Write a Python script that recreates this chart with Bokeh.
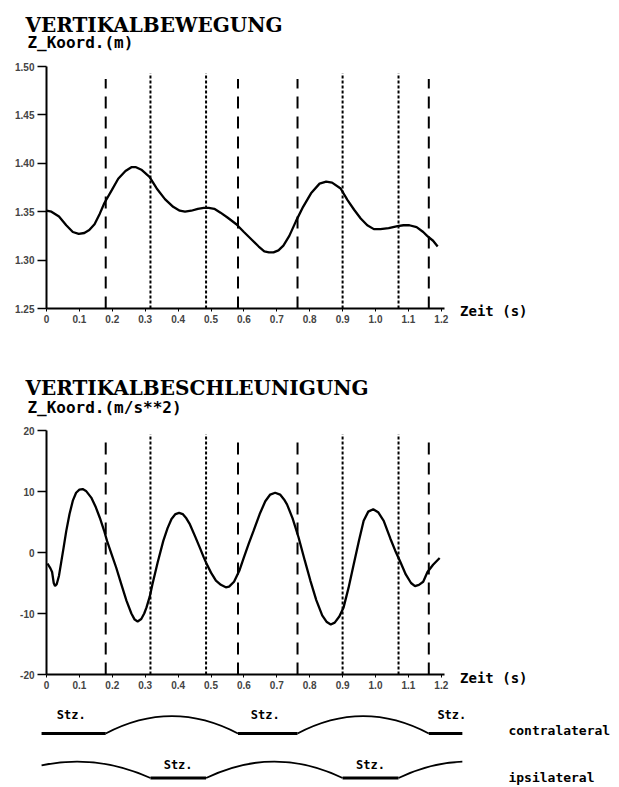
from bokeh.plotting import figure
from bokeh.models import Range1d, FixedTicker, Label
from bokeh.layouts import column
from bokeh.embed import file_html
from bokeh.resources import INLINE

# ---------------- data ----------------
t_pos = [0.000, 0.015, 0.038, 0.060, 0.080, 0.098, 0.115, 0.130, 0.146, 0.162,
         0.176, 0.198, 0.218, 0.240, 0.258, 0.272, 0.290, 0.313, 0.335, 0.360,
         0.385, 0.405, 0.421, 0.440, 0.460, 0.478, 0.493, 0.510, 0.529, 0.550,
         0.577, 0.600, 0.624, 0.645, 0.662, 0.676, 0.690, 0.705, 0.720, 0.738,
         0.758, 0.780, 0.804, 0.830, 0.850, 0.868, 0.894, 0.915, 0.935, 0.955,
         0.975, 0.995, 1.015, 1.040, 1.067, 1.085, 1.103, 1.125, 1.145, 1.157,
         1.175, 1.189]
z_pos = [1.351, 1.350, 1.345, 1.336, 1.329, 1.327, 1.328, 1.331, 1.337, 1.348,
         1.359, 1.372, 1.384, 1.392, 1.396, 1.396, 1.393, 1.386, 1.374, 1.363,
         1.355, 1.351, 1.350, 1.351, 1.353, 1.354, 1.354, 1.353, 1.349, 1.344,
         1.337, 1.329, 1.321, 1.314, 1.309, 1.308, 1.308, 1.310, 1.315, 1.325,
         1.340, 1.355, 1.369, 1.379, 1.381, 1.380, 1.374, 1.362, 1.352, 1.343,
         1.336, 1.332, 1.332, 1.333, 1.335, 1.336, 1.336, 1.334, 1.329, 1.325,
         1.320, 1.314]

t_acc = [0.003, 0.012, 0.017, 0.022, 0.026, 0.031, 0.038, 0.045, 0.052, 0.060,
         0.070, 0.080, 0.090, 0.100, 0.110, 0.120, 0.136, 0.150, 0.162, 0.175,
         0.184, 0.198, 0.212, 0.228, 0.243, 0.258, 0.268, 0.277, 0.288, 0.297,
         0.304, 0.314, 0.322, 0.338, 0.355, 0.368, 0.380, 0.392, 0.403, 0.414,
         0.425, 0.436, 0.452, 0.466, 0.478, 0.487, 0.500, 0.515, 0.530, 0.545,
         0.555, 0.570, 0.586, 0.600, 0.615, 0.629, 0.648, 0.665, 0.680, 0.695,
         0.710, 0.722, 0.731, 0.748, 0.766, 0.785, 0.802, 0.820, 0.838, 0.852,
         0.864, 0.876, 0.890, 0.903, 0.918, 0.934, 0.950, 0.964, 0.978, 0.993,
         1.008, 1.025, 1.045, 1.060, 1.076, 1.092, 1.108, 1.120, 1.132, 1.145,
         1.158, 1.175, 1.195]
a_acc = [-1.8, -2.6, -3.2, -5.0, -5.5, -5.2, -3.8, -1.5, 0.8, 3.5,
         6.3, 8.5, 9.8, 10.3, 10.4, 10.1, 9.0, 7.4, 5.7, 3.6,
         1.9, -0.3, -2.5, -5.3, -7.9, -10.0, -11.0, -11.3, -10.9, -10.0,
         -9.0, -7.2, -5.2, -1.6, 1.9, 4.0, 5.5, 6.3, 6.5, 6.3,
         5.6, 4.6, 2.6, 0.8, -0.8, -1.9, -3.3, -4.6, -5.3, -5.7,
         -5.6, -4.8, -3.0, -0.8, 1.5, 3.5, 6.3, 8.4, 9.5, 9.8,
         9.5, 8.7, 7.9, 5.6, 2.5, -1.3, -4.6, -7.8, -10.3, -11.4,
         -11.8, -11.5, -10.5, -9.0, -5.8, -1.9, 2.0, 5.2, 6.7, 7.1,
         6.6, 5.2, 2.3, 0.3, -1.6, -3.6, -5.0, -5.5, -5.3, -4.8,
         -3.2, -2.0, -0.9]

contra_events = [0.180, 0.582, 0.763, 1.162]   # long dashes
ipsi_events = [0.316, 0.485, 0.900, 1.070]     # short dashes

x_ticks = [0.0, 0.1, 0.2, 0.3, 0.4, 0.5, 0.6, 0.7, 0.8, 0.9, 1.0, 1.1, 1.2]
x_tick_labels = ["0", "0.1", "0.2", "0.3", "0.4", "0.5", "0.6", "0.7", "0.8",
                 "0.9", "1.0", "1.1", "1.2"]
z_ticks = [1.25, 1.30, 1.35, 1.40, 1.45, 1.50]
z_tick_labels = ["1.25", "1.30", "1.35", "1.40", "1.45", "1.50"]
a_ticks = [-20, -10, 0, 10, 20]
a_tick_labels = ["-20", "-10", "0", "10", "20"]

gait_extent = (-0.015, 1.264)
contra_stance = [(-0.015, 0.180), (0.582, 0.763), (1.162, 1.264)]
contra_swing = [(0.180, 0.582), (0.763, 1.162)]
ipsi_stance = [(0.316, 0.485), (0.900, 1.070)]
ipsi_swing = [(-0.130, 0.316), (0.485, 0.900), (1.070, 1.485)]
contra_stz_t = [0.075, 0.665, 1.232]
ipsi_stz_t = [0.400, 0.985]

TICK_FONT = "Liberation Sans"
MONO = "DejaVu Sans Mono"

# ---------------- layout (pixels) ----------------
W = 611
PX_PER_S = 329.0
X0_PX = 46.0            # t = 0 from the left edge of the canvas
XR = (-X0_PX / PX_PER_S, (W - X0_PX) / PX_PER_S)


def y_range_for(height, top_px, bot_px, v_top, v_bot):
    s = (bot_px - top_px) / (v_top - v_bot)
    return (v_bot - (height - bot_px) / s, v_top + top_px / s)


def base_fig(height, yr):
    p = figure(width=W, height=height, x_range=Range1d(*XR), y_range=Range1d(*yr),
               output_backend="svg", toolbar_location=None,
               min_border_left=0, min_border_right=0, min_border_top=0,
               min_border_bottom=0)
    p.outline_line_color = None
    p.grid.visible = False
    return p


def make_plot(height, top_px, bot_px, lim, yticks, ylabels, t, v,
              top_long, top_short, title, subtitle, title_y, sub_y, zeit_dy):
    yr = y_range_for(height, top_px, bot_px, lim[1], lim[0])
    p = base_fig(height, yr)

    n = len(contra_events)
    p.segment(x0=contra_events, y0=[lim[0]] * n, x1=contra_events, y1=[top_long] * n,
              line_color="black", line_width=2, line_dash="12 8")
    m = len(ipsi_events)
    p.segment(x0=ipsi_events, y0=[lim[0]] * m, x1=ipsi_events, y1=[top_short] * m,
              line_color="black", line_width=2, line_dash="3 2")
    p.line(t, v, line_color="black", line_width=2.3)

    ax = p.xaxis[0]
    ax.fixed_location = lim[0]
    ax.bounds = (x_ticks[0], x_ticks[-1] + 0.01)
    ax.ticker = FixedTicker(ticks=x_ticks)
    ax.major_label_overrides = dict(zip(x_ticks, x_tick_labels))
    ax.axis_line_width = 2
    ax.major_tick_out = 3
    ax.major_tick_in = 0
    ax.minor_tick_line_color = None
    ax.major_label_standoff = 3
    ax.major_label_text_font = TICK_FONT
    ax.major_label_text_font_style = "bold"
    ax.major_label_text_font_size = "10px"

    ay = p.yaxis[0]
    ay.fixed_location = 0
    ay.bounds = lim
    ay.ticker = FixedTicker(ticks=yticks)
    ay.major_label_overrides = dict(zip(yticks, ylabels))
    ay.axis_line_width = 2
    ay.major_tick_out = 9
    ay.major_tick_in = 0
    ay.major_tick_line_width = 1.5
    ay.minor_tick_line_color = None
    ay.major_label_standoff = 3
    ay.major_label_text_font = TICK_FONT
    ay.major_label_text_font_style = "bold"
    ay.major_label_text_font_size = "10px"

    p.add_layout(Label(x=-0.064, y=title_y, text=title, text_font="DejaVu Serif",
                       text_font_style="bold", text_font_size="20px",
                       text_baseline="alphabetic", text_color="black"))
    p.add_layout(Label(x=-0.058, y=sub_y, text=subtitle, text_font=MONO,
                       text_font_style="bold", text_font_size="16px",
                       text_baseline="alphabetic", text_color="black"))
    p.add_layout(Label(x=1.257, y=lim[0] - zeit_dy, text="Zeit (s)", text_font=MONO,
                       text_font_style="bold", text_font_size="14px",
                       text_baseline="middle", text_color="black"))
    return p


p1 = make_plot(332, 66, 308, (1.25, 1.50), z_ticks, z_tick_labels, t_pos, z_pos,
               1.487, 1.493, "VERTIKALBEWEGUNG", "Z_Koord.(m)", 1.5424, 1.5248, 0.003)
p2 = make_plot(368, 98, 342, (-20, 20), a_ticks, a_tick_labels, t_acc, a_acc,
               18.2, 19.4, "VERTIKALBESCHLEUNIGUNG", "Z_Koord.(m/s**2)", 26.9, 23.77, 0.5)

# ---------------- gait diagram ----------------
GH = 85
g = base_fig(GH, y_range_for(GH, 33, 77.5, 0.0, -1.0))
g.xaxis.visible = False
g.yaxis.visible = False


def arc_part(t0, t1, lv, h, lo, hi):
    """visible part of the quadratic swing arc between lo and hi"""
    tm = (t0 + t1) / 2
    P = [(t0, lv), (tm, lv + 2 * h), (t1, lv)]
    a = max(0.0, (lo - t0) / (t1 - t0))
    b = min(1.0, (hi - t0) / (t1 - t0))

    def B(u):
        return tuple((1 - u) ** 2 * P[0][k] + 2 * u * (1 - u) * P[1][k] + u * u * P[2][k]
                     for k in range(2))
    w0, w1, w2 = (1 - a) * (1 - b), (1 - a) * b + a * (1 - b), a * b
    c = tuple(w0 * P[0][k] + w1 * P[1][k] + w2 * P[2][k] for k in range(2))
    return B(a), c, B(b)


levels = {"contra": 0.0, "ipsi": -1.0}
arc_h = {"contra": 0.39, "ipsi": 0.37}
for key, stance, swing in (("contra", contra_stance, contra_swing),
                           ("ipsi", ipsi_stance, ipsi_swing)):
    lv = levels[key]
    g.segment(x0=[s[0] for s in stance], y0=[lv] * len(stance),
              x1=[s[1] for s in stance], y1=[lv] * len(stance),
              line_color="black", line_width=3.2)
    parts = [arc_part(s[0], s[1], lv, arc_h[key], *gait_extent) for s in swing]
    g.quadratic(x0=[q[0][0] for q in parts], y0=[q[0][1] for q in parts],
                x1=[q[2][0] for q in parts], y1=[q[2][1] for q in parts],
                cx=[q[1][0] for q in parts], cy=[q[1][1] for q in parts],
                line_color="black", line_width=1.8)

for tt in contra_stz_t:
    g.add_layout(Label(x=tt, y=0.41, text="Stz.", text_font=MONO, text_font_style="bold",
                       text_font_size="12px", text_align="center",
                       text_baseline="middle", text_color="black"))
for tt in ipsi_stz_t:
    g.add_layout(Label(x=tt, y=-0.705, text="Stz.", text_font=MONO, text_font_style="bold",
                       text_font_size="12px", text_align="center",
                       text_baseline="middle", text_color="black"))
g.add_layout(Label(x=1.404, y=0.07, text="contralateral", text_font=MONO,
                   text_font_style="bold", text_font_size="13px",
                   text_baseline="middle", text_color="black"))
g.add_layout(Label(x=1.404, y=-0.99, text="ipsilateral", text_font=MONO,
                   text_font_style="bold", text_font_size="13px",
                   text_baseline="middle", text_color="black"))

layout = column(p1, p2, g, spacing=0)
open("out.html", "w").write(file_html(layout, INLINE))
